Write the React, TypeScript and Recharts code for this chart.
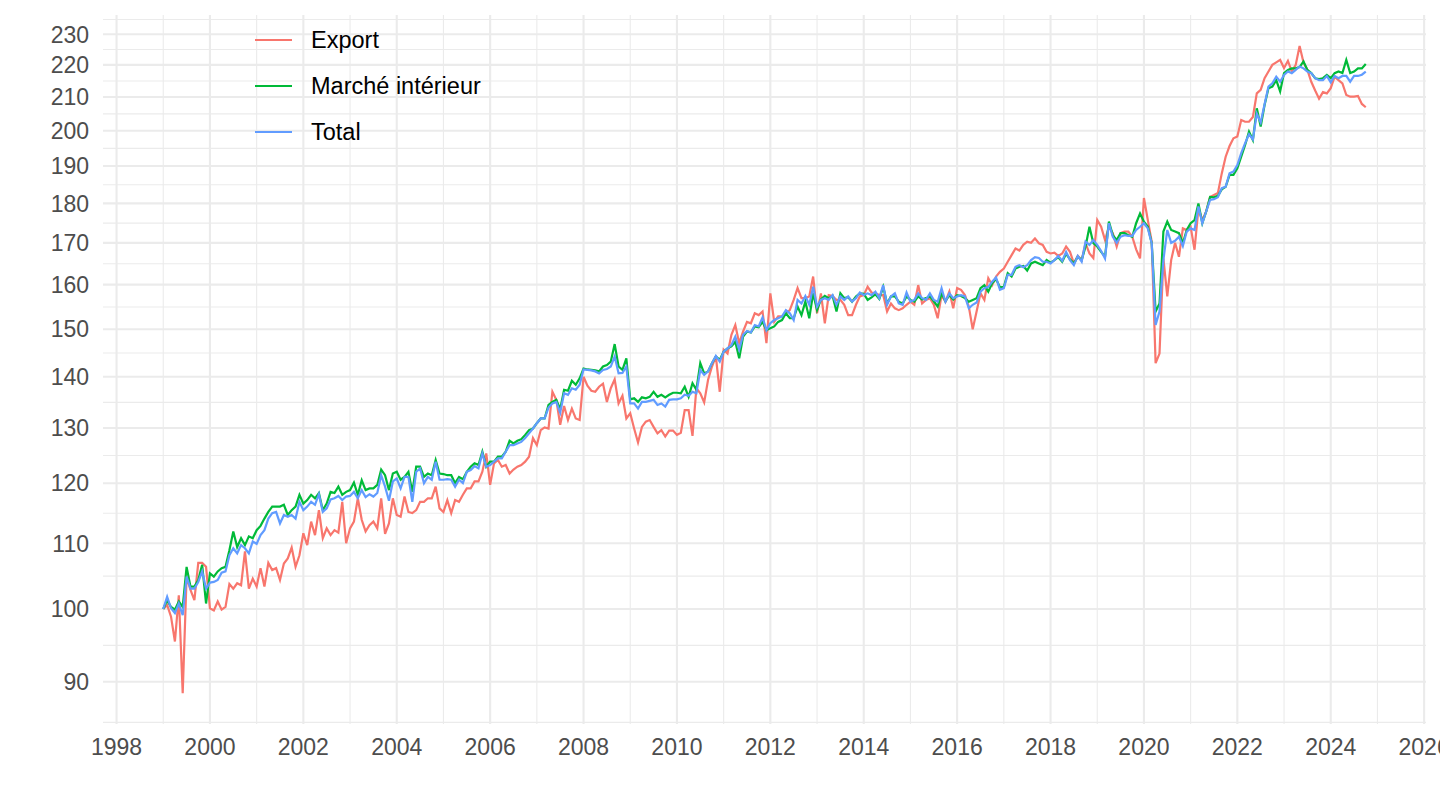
import { LineChart, Line, XAxis, YAxis, CartesianGrid } from 'recharts';

// Indices mensuels, base 100 = janvier 1999 (une ligne par année)
const START_YEAR = 1999;

const exportValues = [
  100.0, 100.6, 98.9, 95.4, 102.0, 88.5, 104.8, 102.8, 101.3, 106.9, 106.9, 106.3,
  100.1, 99.8, 101.1, 99.9, 100.3, 103.7, 103.0, 103.8, 103.5, 108.7, 103.0, 104.5,
  103.3, 106.1, 103.3, 106.9, 105.8, 106.1, 104.3, 106.8, 107.6, 109.3, 106.3, 108.1,
  111.6, 109.7, 113.5, 111.3, 115.4, 110.8, 112.4, 111.3, 112.1, 111.7, 116.8, 110.0,
  112.4, 113.5, 117.4, 113.8, 111.9, 112.9, 113.5, 112.4, 117.4, 111.5, 113.2, 117.4,
  114.6, 114.3, 117.7, 115.1, 114.9, 115.4, 116.8, 116.8, 117.4, 117.4, 119.4, 115.7,
  115.1, 117.1, 114.9, 117.1, 116.8, 118.0, 119.1, 119.1, 120.3, 120.3, 122.0, 125.3,
  119.7, 123.5, 124.1, 122.9, 123.2, 121.7, 122.4, 122.9, 123.2, 123.8, 124.7, 128.1,
  126.8, 129.6, 130.1, 129.9, 137.0, 135.4, 130.6, 134.2, 131.5, 133.7, 131.8, 131.5,
  140.0, 138.2, 137.2, 137.0, 138.0, 138.6, 135.0, 137.7, 139.5, 134.7, 136.2, 131.8,
  132.8, 129.9, 127.3, 130.2, 131.2, 131.5, 130.2, 129.0, 129.6, 128.4, 129.5, 129.5,
  128.7, 129.1, 133.4, 133.4, 128.5, 137.7, 136.7, 134.9, 139.4, 142.1, 144.2, 137.0,
  145.6, 144.8, 148.8, 150.9, 147.0, 149.5, 151.6, 151.3, 153.5, 153.1, 153.9, 147.0,
  158.0, 151.6, 152.8, 152.8, 153.5, 154.2, 156.5, 159.2, 156.9, 156.9, 157.3, 161.9,
  153.5, 158.0, 151.3, 157.6, 157.4, 156.5, 156.5, 155.4, 153.1, 153.1, 155.4, 157.3,
  157.6, 159.5, 158.2, 158.0, 157.6, 157.6, 153.9, 155.7, 154.6, 154.2, 154.6, 155.4,
  156.1, 155.4, 159.9, 155.7, 156.5, 156.9, 155.4, 152.4, 157.6, 156.1, 158.4, 154.6,
  159.2, 158.8, 157.6, 155.0, 150.0, 153.9, 158.0, 156.5, 161.5, 159.9, 161.9, 163.0,
  163.8, 165.4, 167.0, 168.6, 168.1, 169.5, 170.3, 170.0, 171.1, 169.9, 169.5, 167.8,
  167.4, 167.6, 166.8, 167.4, 169.1, 167.8, 165.0, 166.8, 165.8, 169.9, 167.4, 166.3,
  175.7, 174.0, 170.7, 174.0, 172.4, 169.1, 172.4, 172.8, 172.8, 171.5, 168.4, 166.2,
  181.4, 175.7, 170.3, 142.8, 144.8, 166.2, 157.3, 165.8, 170.0, 166.6, 173.6, 173.2,
  174.0, 168.3, 178.7, 175.7, 177.9, 181.7, 182.2, 182.7, 188.0, 192.6, 195.6, 197.8,
  198.3, 203.1, 202.6, 202.6, 204.0, 211.1, 212.2, 215.8, 217.9, 220.0, 220.8, 221.6,
  219.0, 221.3, 217.9, 220.0, 226.1, 220.8, 218.4, 214.7, 212.0, 209.5, 211.5, 211.1,
  212.7, 216.3, 215.2, 214.2, 210.6, 210.1, 210.1, 210.3, 207.9, 206.9,
];

const domesticValues = [
  100.0, 101.3, 100.3, 99.9, 101.1, 100.3, 106.3, 103.3, 103.3, 104.3, 106.6, 100.8,
  105.3, 104.8, 105.6, 106.1, 106.3, 108.9, 111.9, 109.4, 110.8, 109.7, 111.1, 110.8,
  112.1, 112.8, 114.0, 115.1, 116.0, 116.0, 116.0, 116.3, 114.6, 115.4, 116.0, 118.0,
  116.5, 117.1, 118.0, 117.4, 118.3, 115.4, 116.5, 118.5, 118.3, 119.4, 118.0, 118.5,
  118.8, 120.1, 118.0, 120.5, 118.8, 119.1, 119.1, 119.7, 122.4, 121.4, 118.8, 121.7,
  122.0, 120.6, 121.1, 122.0, 118.5, 122.9, 122.9, 121.1, 121.7, 121.4, 124.1, 121.7,
  121.6, 121.4, 121.4, 120.0, 121.1, 120.7, 122.0, 122.9, 123.5, 123.2, 125.6, 122.9,
  123.8, 123.8, 124.7, 124.7, 125.6, 127.6, 127.1, 127.6, 127.9, 128.7, 129.6, 129.9,
  130.9, 131.8, 131.8, 134.4, 135.0, 135.4, 133.6, 137.4, 137.2, 139.2, 138.4, 139.7,
  141.7, 141.5, 141.4, 141.3, 141.1, 142.1, 142.4, 143.1, 146.8, 142.1, 141.4, 143.8,
  135.5, 135.7, 135.0, 135.9, 135.7, 136.0, 137.0, 136.0, 136.4, 135.9, 136.4, 136.8,
  136.8, 136.7, 138.0, 136.0, 138.7, 137.4, 142.8, 140.7, 141.1, 142.8, 144.2, 143.5,
  145.2, 145.9, 146.3, 147.3, 143.8, 148.4, 149.5, 149.3, 150.6, 150.4, 151.6, 149.8,
  150.2, 150.6, 151.6, 152.0, 153.5, 152.4, 152.4, 155.0, 153.1, 156.1, 152.4, 158.0,
  154.2, 156.6, 157.4, 156.9, 157.4, 153.9, 158.0, 156.9, 157.1, 156.1, 157.3, 158.0,
  157.9, 156.5, 157.1, 157.8, 156.7, 159.5, 155.7, 157.3, 157.3, 156.1, 155.7, 157.3,
  156.5, 156.1, 157.3, 156.6, 156.9, 157.3, 156.2, 155.0, 158.0, 156.2, 157.6, 156.6,
  157.6, 157.4, 156.9, 156.1, 156.5, 156.9, 159.2, 159.9, 158.4, 160.3, 161.3, 159.4,
  159.5, 162.7, 161.9, 163.8, 164.2, 164.4, 163.3, 165.0, 165.4, 165.0, 164.6, 165.8,
  165.2, 165.8, 166.5, 165.4, 167.3, 166.0, 165.0, 166.6, 165.8, 169.1, 174.0, 169.9,
  169.1, 167.8, 166.6, 175.3, 171.9, 170.7, 172.4, 172.4, 171.9, 171.5, 174.9, 177.4,
  175.3, 174.0, 169.9, 153.9, 155.7, 172.8, 175.3, 173.2, 172.8, 172.4, 169.9, 173.2,
  174.9, 175.7, 180.0, 174.9, 177.9, 181.7, 181.6, 182.0, 183.7, 184.4, 187.6, 187.6,
  189.4, 192.6, 195.9, 199.7, 197.3, 206.6, 201.2, 207.6, 212.7, 213.2, 215.2, 211.7,
  217.4, 218.4, 218.9, 218.9, 219.3, 221.1, 218.4, 217.4, 215.8, 215.5, 215.8, 216.8,
  215.8, 217.4, 217.9, 217.4, 221.6, 217.4, 217.9, 218.9, 218.9, 220.3,
];

const totalValues = [
  100.0, 101.8, 100.1, 99.4, 100.8, 99.1, 104.8, 103.0, 103.0, 104.0, 105.6, 103.0,
  103.9, 104.0, 104.3, 105.4, 105.6, 108.1, 109.2, 108.4, 109.7, 109.2, 108.4, 110.3,
  109.9, 111.3, 112.1, 114.0, 114.9, 115.1, 113.2, 114.6, 114.3, 114.6, 114.0, 116.8,
  115.4, 116.0, 116.8, 116.3, 118.1, 115.1, 115.7, 117.2, 117.4, 117.8, 117.1, 117.7,
  117.8, 118.5, 117.4, 118.8, 117.6, 118.1, 117.7, 118.3, 121.4, 119.4, 117.0, 120.3,
  120.8, 119.1, 121.1, 121.1, 116.8, 122.0, 122.6, 120.0, 121.1, 120.6, 123.8, 120.6,
  120.6, 120.7, 120.6, 119.4, 120.6, 120.0, 122.0, 122.3, 123.0, 122.6, 125.3, 122.9,
  123.2, 123.8, 124.4, 124.4, 125.6, 126.8, 126.8, 127.1, 127.4, 128.1, 129.0, 129.9,
  130.9, 131.8, 131.8, 133.9, 134.7, 135.0, 132.9, 136.7, 136.4, 137.7, 137.4, 138.4,
  141.5, 141.4, 141.3, 141.1, 140.7, 141.4, 141.6, 142.1, 144.2, 140.7, 140.8, 142.1,
  134.7, 134.7, 133.7, 135.0, 135.0, 135.2, 135.4, 134.4, 134.7, 134.1, 135.4, 135.5,
  135.5, 135.7, 136.4, 136.2, 137.0, 136.7, 141.4, 140.4, 141.1, 142.8, 144.3, 143.1,
  145.2, 145.9, 146.6, 148.4, 145.6, 148.8, 149.6, 149.3, 150.9, 150.6, 152.6, 149.8,
  151.3, 152.0, 152.4, 152.8, 154.2, 153.5, 152.0, 156.5, 155.7, 157.4, 155.4, 159.5,
  155.0, 156.5, 156.9, 156.5, 157.6, 155.4, 157.3, 156.5, 157.3, 156.1, 156.9, 158.2,
  157.6, 158.0, 157.6, 158.4, 156.9, 159.9, 155.4, 157.3, 158.0, 155.7, 155.4, 158.2,
  156.1, 156.5, 158.0, 156.9, 156.5, 158.0, 156.5, 156.1, 159.2, 156.1, 158.0, 156.9,
  157.3, 157.6, 157.3, 154.6, 155.4, 155.9, 158.4, 159.2, 159.5, 160.7, 161.7, 158.8,
  159.2, 162.3, 162.3, 164.2, 164.6, 164.1, 164.6, 165.8, 166.5, 166.3, 165.4, 165.4,
  165.0, 165.8, 166.8, 165.6, 167.8, 165.8, 164.6, 166.8, 165.4, 170.3, 169.5, 170.7,
  169.5, 168.0, 166.2, 174.9, 171.5, 170.0, 171.5, 171.9, 171.7, 171.7, 173.2, 174.0,
  174.9, 173.6, 169.9, 150.9, 153.9, 165.8, 173.2, 170.0, 170.5, 171.5, 169.2, 172.8,
  173.6, 173.2, 179.2, 174.9, 177.9, 180.9, 181.1, 181.6, 184.0, 184.4, 188.0, 188.5,
  190.3, 193.6, 196.4, 199.0, 197.5, 205.0, 202.4, 207.8, 213.2, 214.2, 216.3, 214.7,
  216.8, 217.9, 217.4, 218.4, 219.5, 218.9, 217.9, 217.4, 215.8, 215.2, 215.2, 216.5,
  214.5, 216.5, 215.8, 216.5, 216.5, 214.7, 216.5, 216.5, 216.9, 217.9,
];

const yTicks = [90, 100, 110, 120, 130, 140, 150, 160, 170, 180, 190, 200, 210, 220, 230];
const xTicks = [1998, 2000, 2002, 2004, 2006, 2008, 2010, 2012, 2014, 2016, 2018, 2020, 2022, 2024, 2026];

const seriesNames = ['Export', 'Marché intérieur', 'Total'];
const seriesColors = ['#F8766D', '#00BA38', '#619CFF'];

const data = totalValues.map((v, i) => ({
  date: START_YEAR + i / 12,
  export: exportValues[i],
  domestic: domesticValues[i],
  total: v,
}));

// minor breaks: midpoints (log space) between majors, plus one below/above
const extY = [80, ...yTicks, 240];
const yMinor = extY.slice(1).map((v, i) => Math.sqrt(v * extY[i]));
const xMinor = xTicks.slice(1).map((v) => v - 1);

const FONT = '"Liberation Sans", Arial, Helvetica, sans-serif';

const XTick = ({ x, y, payload }: any) => (
  <text x={x} y={y} dy="0.71em" textAnchor="middle" fill="#4D4D4D" fontSize={23} fontFamily={FONT}>
    {payload.value}
  </text>
);

const YTick = ({ x, y, payload }: any) => (
  <text x={x} y={y} dy="0.36em" textAnchor="end" fill="#4D4D4D" fontSize={23} fontFamily={FONT}>
    {payload.value}
  </text>
);

// legend drawn over the panel, top left
function LegendBox() {
  return (
    <div style={{ position: 'absolute', left: 255, top: 17, fontFamily: FONT, fontSize: 23.5, color: '#000' }}>
      {seriesNames.map((name, i) => (
        <div key={name} style={{ display: 'flex', alignItems: 'center', height: 46 }}>
          <svg width={37} height={4} style={{ marginRight: 19 }}>
            <line x1={0} y1={2} x2={37} y2={2} stroke={seriesColors[i]} strokeWidth={2.2} />
          </svg>
          <span>{name}</span>
        </div>
      ))}
    </div>
  );
}

export default function App() {
  return (
    <div style={{ position: 'absolute', left: 0, top: 0, width: 1440, height: 810, background: '#fff' }}>
      <LineChart width={1440} height={810} data={data} margin={{ top: 15, right: 14, bottom: 0, left: 0 }}>
        <CartesianGrid horizontalValues={yMinor} verticalValues={xMinor} stroke="#EBEBEB" strokeWidth={1.1} />
        <CartesianGrid horizontalValues={yTicks} verticalValues={xTicks} stroke="#EBEBEB" strokeWidth={2.1} />
        <XAxis
          dataKey="date"
          type="number"
          domain={[1997.71, 2026.04]}
          ticks={xTicks}
          allowDataOverflow
          axisLine={false}
          tickLine={false}
          tickSize={0}
          tickMargin={15}
          height={86}
          tick={<XTick />}
          interval={0}
        />
        <YAxis
          scale="log"
          domain={[84.65, 236.5]}
          ticks={yTicks}
          allowDataOverflow
          axisLine={false}
          tickLine={false}
          tickSize={0}
          tickMargin={14}
          width={103}
          tick={<YTick />}
          interval={0}
        />
        <Line type="linear" dataKey="export" name={seriesNames[0]} stroke={seriesColors[0]} strokeWidth={2.2} dot={false} isAnimationActive={false} />
        <Line type="linear" dataKey="domestic" name={seriesNames[1]} stroke={seriesColors[1]} strokeWidth={2.2} dot={false} isAnimationActive={false} />
        <Line type="linear" dataKey="total" name={seriesNames[2]} stroke={seriesColors[2]} strokeWidth={2.2} dot={false} isAnimationActive={false} />
      </LineChart>
      <LegendBox />
    </div>
  );
}
